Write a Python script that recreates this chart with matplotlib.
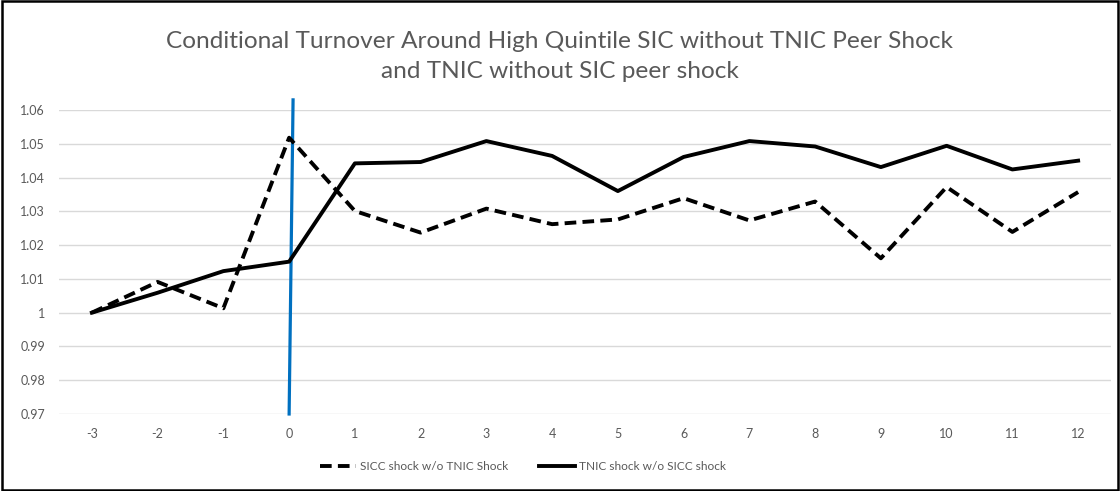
import numpy as np
import matplotlib.pyplot as plt
from matplotlib.patches import Rectangle

# event time
periods = [-3, -2, -1, 0, 1, 2, 3, 4, 5, 6, 7, 8, 9, 10, 11, 12]
sicc_wo_tnic = [1.0000, 1.0091, 1.0013, 1.0518, 1.0301, 1.0237, 1.0308, 1.0262,
                1.0276, 1.0339, 1.0273, 1.0329, 1.0161, 1.0372, 1.0239, 1.0357]
tnic_wo_sicc = [1.0000, 1.0059, 1.0123, 1.0151, 1.0442, 1.0446, 1.0508, 1.0464,
                1.0360, 1.0461, 1.0508, 1.0492, 1.0431, 1.0494, 1.0424, 1.0450]
yticks = [0.97, 0.98, 0.99, 1.00, 1.01, 1.02, 1.03, 1.04, 1.05, 1.06]
ytick_labels = ["0.97", "0.98", "0.99", "1", "1.01", "1.02", "1.03", "1.04", "1.05", "1.06"]

plt.rcParams['font.family'] = ['Lato', 'DejaVu Sans']
gray = '#595959'

fig = plt.figure(figsize=(11.2, 4.91), dpi=100)
ax = fig.add_axes([59/1120, 1-414/491, (1111-59)/1120, (414-110)/491])

x = np.arange(len(periods))
ax.plot(x, sicc_wo_tnic, color='black', lw=2.8, ls=(0, (3, 1.6)), label='SICC shock w/o TNIC Shock')
ax.plot(x, tnic_wo_sicc, color='black', lw=2.8, label='TNIC shock w/o SICC shock')

# event line at t=0
i0 = periods.index(0)
ax.plot([i0 + 0.06, i0], [1.063, 0.97], color='#0070c0', lw=2.3, clip_on=False, zorder=1)

ax.set_xlim(-0.5, len(periods) - 0.5)
ax.set_ylim(0.97, 1.06)
ax.set_xticks(x)
ax.set_xticklabels([str(p) for p in periods])
ax.set_yticks(yticks)
ax.set_yticklabels(ytick_labels)
ax.tick_params(length=0, colors=gray, labelsize=9, pad=10)
ax.grid(axis='y', color='#d9d9d9', lw=1)
ax.set_axisbelow(True)
for s in ax.spines.values():
    s.set_visible(False)

fig.text(0.5, 1-42/491, "Conditional Turnover Around High Quintile SIC without TNIC Peer Shock",
         ha='center', va='center', fontsize=17.6, color=gray)
fig.text(0.5, 1-72/491, "and TNIC without SIC peer shock",
         ha='center', va='center', fontsize=17.6, color=gray)

leg = fig.legend(loc='center', bbox_to_anchor=(0.467, 1-467/491), ncol=2, frameon=False,
                 fontsize=8.6, handlelength=3.0, columnspacing=2.6, handletextpad=0.3)
for t in leg.get_texts():
    t.set_color(gray)

fig.patches.append(Rectangle((0.002, 0.003), 0.996, 0.994, transform=fig.transFigure,
                             fill=False, edgecolor='black', lw=1.8))

fig.savefig('out.png', dpi=100)
